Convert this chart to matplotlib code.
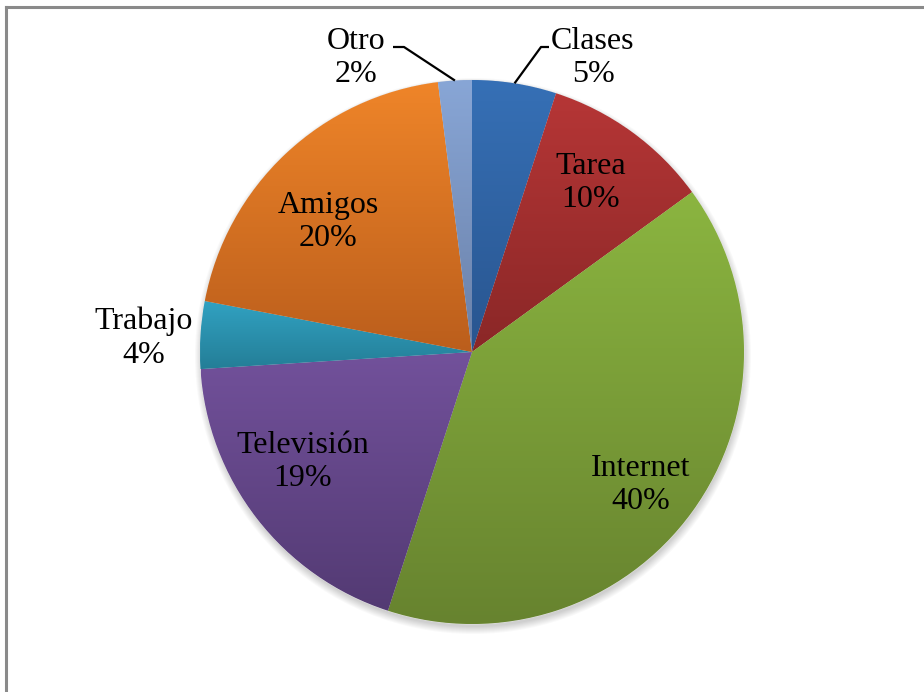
import numpy as np
import matplotlib.pyplot as plt
from matplotlib.colors import LinearSegmentedColormap
from matplotlib.patches import Circle

# datos del grafico
categorias = ['Clases', 'Tarea', 'Internet', 'Televisión', 'Trabajo', 'Amigos', 'Otro']
porcentajes = [5, 10, 40, 19, 4, 20, 2]

# colores (arriba claro, abajo oscuro) como en Excel 2007
col_top = ['#3670b6', '#b63636', '#8bb540', '#72519b', '#31a2c2', '#ef8529', '#88a6d6']
col_bot = ['#29558f', '#8a2727', '#67832f', '#533a73', '#247e97', '#bb5e1c', '#6a80a8']

# posicion de etiquetas (pixeles de la imagen) y si llevan linea guia
etiq_xy = [(593, 58), (591, 183), (641, 485), (303, 462), (144, 338), (328, 222), (356, 58)]
guia = [(541, 47), None, None, None, None, None, (404, 47)]
guia_fin = [(549, 47), None, None, None, None, None, (393, 47)]

W, H = 924, 692
cx, cy, R = 472, H - 352, 272

fig = plt.figure(figsize=(W / 100, H / 100), dpi=100)
ax = fig.add_axes([0, 0, 1, 1])
ax.set_xlim(0, W)
ax.set_ylim(0, H)
ax.set_aspect('equal')
ax.axis('off')

# sombra suave
for k in range(8):
    ax.add_patch(Circle((cx + 1, cy - 4), R + 6 - k, color='#000000', alpha=0.025, lw=0, zorder=0))

wedges, _ = ax.pie(porcentajes, center=(cx, cy), radius=R, startangle=90, counterclock=False,
                   frame=True, wedgeprops=dict(linewidth=0.6, edgecolor='#e6e6e6'))
ax.set_xlim(0, W)
ax.set_ylim(0, H)
ax.axis('off')

grad = np.linspace(1, 0, 256).reshape(-1, 1)
for i, w in enumerate(wedges):
    ext = w.get_path().get_extents()
    cmap = LinearSegmentedColormap.from_list('g%d' % i, [col_bot[i], col_top[i]])
    w.set_facecolor(col_top[i])
    im = ax.imshow(grad, cmap=cmap, vmin=0, vmax=1, aspect='auto', origin='upper',
                   extent=[ext.x0, ext.x1, ext.y0, ext.y1], zorder=1.5, interpolation='bilinear')
    im.set_clip_path(w)

ax.set_xlim(0, W)
ax.set_ylim(0, H)

for i, w in enumerate(wedges):
    x, y = etiq_xy[i]
    ax.text(x, H - y, '%s\n%d%%' % (categorias[i], porcentajes[i]), ha='center', va='center',
            fontsize=23, family='Liberation Serif', linespacing=1.22, zorder=5)
    if guia[i] is not None:
        ang = np.deg2rad((w.theta1 + w.theta2) / 2)
        px, py = cx + R * np.cos(ang), cy + R * np.sin(ang)
        xs = [guia_fin[i][0], guia[i][0], px]
        ys = [H - guia_fin[i][1], H - guia[i][1], py]
        ax.plot(xs, ys, color='black', lw=1.6, zorder=4, solid_capstyle='butt')

# marco del area del grafico
fig.add_artist(plt.Line2D([5.5 / W, 1], [1 - 6.5 / H, 1 - 6.5 / H], color='#8a8a8a', lw=2.2))
fig.add_artist(plt.Line2D([5.5 / W, 5.5 / W], [0, 1 - 6.5 / H], color='#8a8a8a', lw=2.2))

fig.savefig('out.png', dpi=100, facecolor='white')
